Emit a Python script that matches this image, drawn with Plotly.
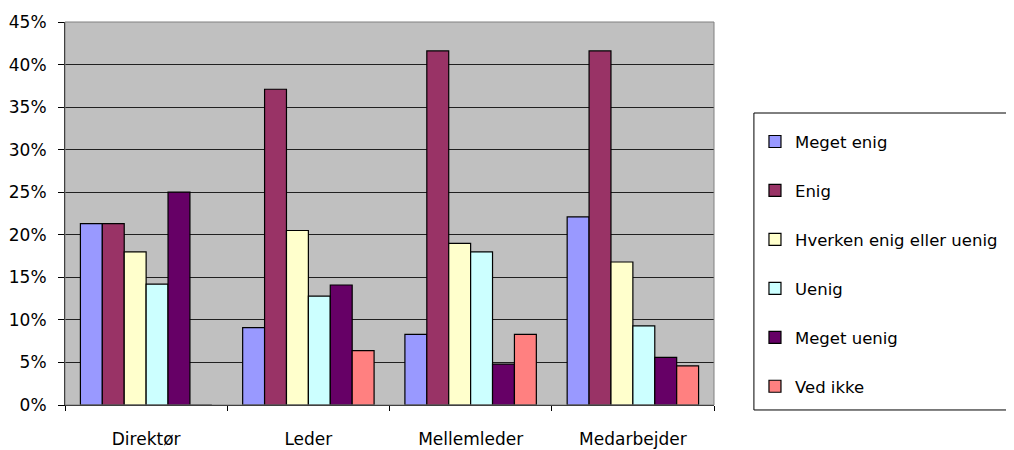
import plotly.graph_objects as go

categories = ["Direktør", "Leder", "Mellemleder", "Medarbejder"]
series_names = ["Meget enig", "Enig", "Hverken enig eller uenig", "Uenig", "Meget uenig", "Ved ikke"]
meget_enig = [21.3, 9.1, 8.3, 22.1]
enig = [21.3, 37.1, 41.6, 41.6]
hverken = [18.0, 20.5, 19.0, 16.8]
uenig = [14.2, 12.8, 18.0, 9.3]
meget_uenig = [25.0, 14.1, 4.8, 5.6]
ved_ikke = [0.0, 6.4, 8.3, 4.6]
y_ticks = [0, 5, 10, 15, 20, 25, 30, 35, 40, 45]
y_tick_labels = ["0%", "5%", "10%", "15%", "20%", "25%", "30%", "35%", "40%", "45%"]

series_values = [meget_enig, enig, hverken, uenig, meget_uenig, ved_ikke]
colors = ["#9999FF", "#993366", "#FFFFCC", "#CCFFFF", "#660066", "#FF8080"]

fig = go.Figure()
for name, vals, col in zip(series_names, series_values, colors):
    fig.add_trace(go.Bar(
        x=categories, y=vals, name=name, legendgroup=name,
        marker=dict(color=col, line=dict(color="black", width=1.2)),
    ))

font = "'DejaVu Sans', sans-serif"
fig.update_layout(
    width=1006, height=442,
    margin=dict(l=57, r=299, t=14, b=45),
    barmode="group", bargap=0.19, bargroupgap=0,
    plot_bgcolor="#C0C0C0", paper_bgcolor="white",
    font=dict(family=font, size=17, color="black"),
    legend=dict(
        x=1.0615, xanchor="left", y=0.733, yanchor="top",
        borderwidth=0, bgcolor="rgba(0,0,0,0)",
        tracegroupgap=24.5, font=dict(size=16.5),
        itemwidth=30,
    ),
    xaxis=dict(
        type="category", showline=True, linecolor="black", linewidth=1,
        ticks="outside", tickson="boundaries", ticklen=5, tickcolor="black",
        showgrid=False, automargin=False, ticklabelstandoff=19,
    ),
    yaxis=dict(
        range=[0, 45], tickmode="array", tickvals=y_ticks, ticktext=y_tick_labels,
        showline=True, linecolor="black", linewidth=1,
        ticks="outside", ticklen=6, tickcolor="black",
        showgrid=True, gridcolor="#202020", gridwidth=1,
        zeroline=False, automargin=False, ticklabelstandoff=8,
    ),
    shapes=[
        dict(type="rect", xref="paper", yref="paper", x0=0, x1=1, y0=0, y1=1,
             line=dict(color="#808080", width=1), layer="above"),
        dict(type="rect", xref="paper", yref="paper", x0=1.0615, x1=1.47,
             y0=-0.013, y1=0.7624, line=dict(color="black", width=1),
             fillcolor="white", layer="below"),
    ],
)
fig.write_html("out.html")
